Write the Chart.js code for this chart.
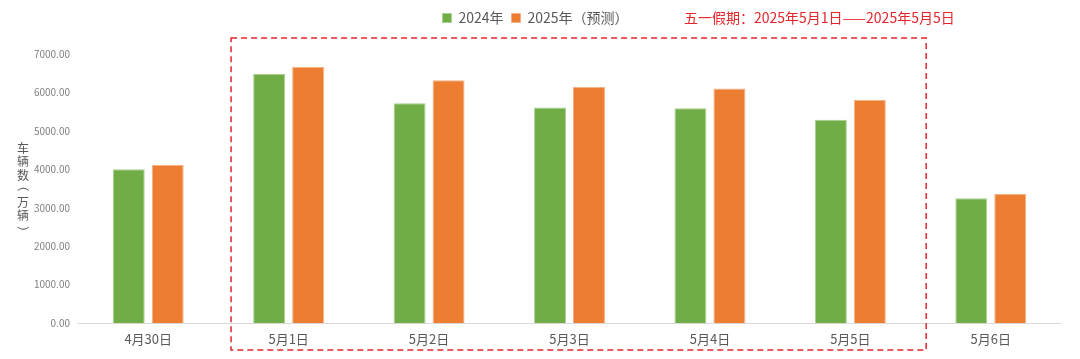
<!DOCTYPE html>
<html>
<head>
<meta charset="utf-8">
<script src="https://cdn.jsdelivr.net/npm/chart.js@4/dist/chart.umd.min.js"></script>
<style>
  html, body { margin: 0; padding: 0; background: #fff; }
  #wrap { width: 1080px; height: 359px; position: relative; }
</style>
</head>
<body>
<div id="wrap"><canvas id="chart"></canvas></div>
<script>
// data
const categories = ["4月30日", "5月1日", "5月2日", "5月3日", "5月4日", "5月5日", "5月6日"];
const values2024 = [4000, 6480, 5720, 5610, 5590, 5290, 3245];
const values2025 = [4110, 6660, 6320, 6140, 6100, 5800, 3355];
const seriesNames = ["2024年", "2025年（预测）"];
const yTitle = "车辆数（万辆）";
const holidayNote = "五一假期：2025年5月1日——2025年5月5日";
const holidayFrom = 1; // index of 5月1日
const holidayTo = 5;   // index of 5月5日

const FONT = '"Noto Sans CJK SC", "Noto Sans", sans-serif';

// give the legend some extra room below it
const legendRoom = {
  id: "legendRoom",
  afterInit(chart) {
    const lg = chart.legend;
    if (!lg) return;
    const fit = lg.fit.bind(lg);
    lg.fit = function () {
      fit();
      this.height += 19;
    };
  }
};

// stacked vertical axis title, note text and dashed holiday box
const extras = {
  id: "extras",
  afterDraw(chart) {
    const ctx = chart.ctx;
    const x = chart.scales.x;
    const area = chart.chartArea;
    ctx.save();

    // y title, one character per line, brackets turned as in vertical text
    ctx.fillStyle = "#595959";
    ctx.font = "12px " + FONT;
    ctx.textAlign = "center";
    ctx.textBaseline = "middle";
    const chars = Array.from(yTitle);
    const step = 13.5;
    const cy = (area.top + area.bottom) / 2;
    chars.forEach((c, i) => {
      const y = cy + (i - (chars.length - 1) / 2) * step;
      if (c === "（" || c === "）") {
        ctx.save();
        ctx.translate(23, y);
        ctx.rotate(Math.PI / 2);
        ctx.fillText(c, c === "（" ? -3 : 3, 0);
        ctx.restore();
      } else {
        ctx.fillText(c, 23, y);
      }
    });

    // holiday note
    ctx.fillStyle = "#e3262b";
    ctx.font = "14px " + FONT;
    ctx.textAlign = "left";
    ctx.fillText(holidayNote, 684, 18);

    // dashed box round the holiday days
    const gap = x.getPixelForValue(1) - x.getPixelForValue(0);
    const left = x.getPixelForValue(holidayFrom) - gap * 0.41;
    const right = x.getPixelForValue(holidayTo) + gap * 0.54;
    ctx.strokeStyle = "#e3262b";
    ctx.lineWidth = 1.5;
    ctx.setLineDash([6, 4]);
    ctx.strokeRect(left, 38, right - left, 312);
    ctx.restore();
  }
};

new Chart(document.getElementById("chart"), {
  type: "bar",
  data: {
    labels: categories,
    datasets: [
      {
        label: seriesNames[0],
        data: values2024,
        backgroundColor: "#70ad47",
        borderColor: "#a9d08e",
        borderWidth: 1,
      },
      {
        label: seriesNames[1],
        data: values2025,
        backgroundColor: "#ed7d31",
        borderColor: "#f4b183",
        borderWidth: 1,
      },
    ],
  },
  options: {
    responsive: true,
    maintainAspectRatio: false,
    animation: false,
    layout: { padding: { top: 3, right: 19, bottom: 0, left: 10 } },
    datasets: {
      bar: { categoryPercentage: 0.555, barPercentage: 0.82 },
    },
    plugins: {
      tooltip: { enabled: false },
      legend: {
        position: "top",
        align: "center",
        labels: {
          font: { family: FONT, size: 14 },
          color: "#595959",
          boxWidth: 9,
          boxHeight: 9,
          padding: 8,
        },
      },
    },
    scales: {
      x: {
        grid: { display: false, drawTicks: false },
        border: { color: "#d9d9d9", width: 1 },
        ticks: {
          color: "#595959",
          font: { family: FONT, size: 13 },
          padding: 8,
          maxRotation: 0,
        },
        afterFit(scale) { scale.height = 36; },
      },
      y: {
        min: 0,
        max: 7000,
        grid: { display: false, drawTicks: false },
        border: { display: false },
        ticks: {
          stepSize: 1000,
          color: "#7f7f7f",
          font: { family: FONT, size: 10 },
          padding: 8,
          callback: (v) => Number(v).toFixed(2),
        },
        afterFit(scale) { scale.width = 68; },
      },
    },
  },
  plugins: [legendRoom, extras],
});
</script>
</body>
</html>
